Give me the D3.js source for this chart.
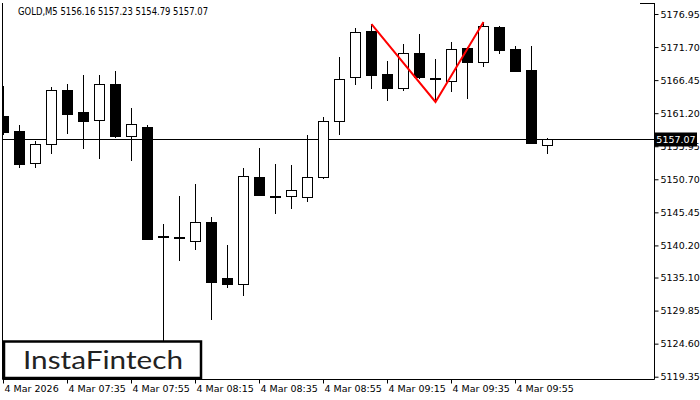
<!DOCTYPE html>
<html><head><meta charset="utf-8">
<script src="https://cdn.jsdelivr.net/npm/d3@7"></script>
<style>
html,body{margin:0;padding:0;background:#fff;}
svg{display:block;}
</style></head>
<body>
<svg id="chart" width="700" height="400"></svg>
<script>
const symbolTitle = "GOLD,M5  5156.16 5157.23 5154.79 5157.07";
const opens = [5160.75,5158.37,5153.29,5156.31,5164.88,5161.39,5160.12,5165.83,5157.58,5159.00,5141.72,5141.52,5140.95,5143.92,5135.03,5134.07,5151.06,5148.07,5148.05,5147.89,5151.06,5159.96,5166.95,5174.25,5167.42,5165.20,5170.76,5166.77,5166.31,5171.55,5169.33,5174.89,5171.39,5168.06,5156.16];
const highs = [5165.52,5159.32,5156.78,5165.36,5165.83,5167.26,5167.26,5167.90,5162.02,5159.32,5143.60,5148.05,5149.95,5144.71,5140.27,5152.49,5155.67,5153.13,5152.97,5157.73,5160.59,5170.12,5174.73,5175.36,5169.49,5172.19,5173.77,5169.80,5172.50,5171.71,5175.68,5175.04,5171.87,5171.87,5157.23];
const lows = [5157.73,5152.49,5152.49,5154.72,5157.89,5155.51,5153.92,5157.26,5153.61,5141.06,5123.50,5137.73,5139.47,5128.36,5133.44,5132.17,5148.05,5145.19,5145.98,5147.09,5150.75,5157.73,5165.68,5165.04,5163.13,5164.72,5166.63,5162.98,5164.56,5163.45,5168.53,5170.60,5167.90,5156.46,5154.79];
const closes = [5158.21,5153.13,5156.31,5164.88,5161.07,5159.96,5165.83,5157.58,5159.48,5141.22,5141.68,5141.56,5143.87,5134.39,5134.07,5151.22,5148.21,5148.03,5149.00,5151.06,5159.96,5166.63,5174.09,5167.26,5165.20,5170.76,5166.95,5166.81,5171.39,5169.33,5175.04,5171.23,5167.90,5156.46,5157.07];
const xTickIndex = [0,4,8,12,16,20,24,28,32];
const xTickLabels = ["4 Mar 2026","4 Mar 07:35","4 Mar 07:55","4 Mar 08:15","4 Mar 08:35","4 Mar 08:55","4 Mar 09:15","4 Mar 09:35","4 Mar 09:55"];
const yTicks = [5176.95,5171.70,5166.45,5161.20,5155.95,5150.70,5145.45,5140.20,5135.10,5129.85,5124.60,5119.35];
const currentPrice = 5157.07;
const patternIndex = [23,27,30];
const patternPrice = [5175.36,5162.98,5175.68];
const logoText = "InstaFintech";

const svg = d3.select("#chart");
const plotL = 2.5, plotR = 654.5, plotT = 3, plotB = 379.5;
const x = d3.scaleLinear().domain([0, 34]).range([3.5, 547.5]);
const y = d3.scaleLinear().domain([5119.35, 5176.95]).range([376.7, 14]);
const font = "Tahoma, 'DejaVu Sans', 'Liberation Sans', sans-serif";

const plot = svg.append("g");
// clip
svg.append("clipPath").attr("id","clip").append("rect")
  .attr("x", plotL).attr("y", plotT).attr("width", plotR-plotL).attr("height", plotB-plotT);
const g = plot.append("g").attr("clip-path","url(#clip)");

// current price line
g.append("line").attr("x1", plotL).attr("x2", plotR)
  .attr("y1", Math.round(y(currentPrice))+0.5).attr("y2", Math.round(y(currentPrice))+0.5)
  .attr("stroke","#000").attr("stroke-width",1);

const idx = d3.range(opens.length);
const px = i => Math.round(x(i) - 0.5) + 0.5;
// wicks
g.selectAll("line.wick").data(idx).join("line").attr("class","wick")
  .attr("x1", px).attr("x2", px)
  .attr("y1", i => Math.round(y(highs[i]))).attr("y2", i => Math.round(y(lows[i])))
  .attr("stroke","#000").attr("stroke-width",1);
// bodies
g.selectAll("rect.body").data(idx).join("rect").attr("class","body")
  .attr("x", i => px(i) - 5)
  .attr("width", 10)
  .attr("y", i => Math.round(y(Math.max(opens[i], closes[i]))) + 0.5)
  .attr("height", i => Math.max(1, Math.round(y(Math.min(opens[i], closes[i]))) - Math.round(y(Math.max(opens[i], closes[i])))))
  .attr("fill", i => closes[i] >= opens[i] ? "#fff" : "#000")
  .attr("stroke","#000").attr("stroke-width",1);

// pattern line
g.append("path")
  .datum(d3.range(patternIndex.length))
  .attr("d", d3.line().x(j => x(patternIndex[j])).y(j => y(patternPrice[j])))
  .attr("fill","none").attr("stroke","#ff0000").attr("stroke-width",2);

// frame
svg.append("line").attr("x1", plotL).attr("x2", plotL).attr("y1", plotT).attr("y2", plotB)
  .attr("stroke","#000");
svg.append("line").attr("x1", plotL).attr("x2", plotR).attr("y1", plotB).attr("y2", plotB)
  .attr("stroke","#000");
svg.append("line").attr("x1", plotR).attr("x2", plotR).attr("y1", plotT).attr("y2", plotB)
  .attr("stroke","#000");
svg.append("line").attr("x1", 640).attr("x2", plotR).attr("y1", plotT+0.5).attr("y2", plotT+0.5)
  .attr("stroke","#000");

// y axis
const yAxis = d3.axisRight(y).tickValues(yTicks).tickFormat(d3.format(".2f")).tickSize(4).tickSizeOuter(0).tickPadding(2);
const ya = svg.append("g").attr("transform", `translate(${plotR},0)`).call(yAxis);
ya.select(".domain").remove();
ya.selectAll("text").attr("font-family", font).attr("font-size", 9.5).attr("fill","#000");
ya.selectAll("line").attr("stroke","#000");

// x axis
const xAxis = d3.axisBottom(x).tickValues(xTickIndex).tickFormat((d,k) => xTickLabels[k]).tickSize(4).tickSizeOuter(0);
const xa = svg.append("g").attr("transform", `translate(0,${plotB})`).call(xAxis);
xa.select(".domain").remove();
xa.selectAll(".tick").attr("transform", d => `translate(${px(d)},0)`);
xa.selectAll("text").attr("font-family", font).attr("font-size", 9.5).attr("fill","#000")
  .attr("text-anchor","start").attr("x", 1).attr("y", 6).attr("dy","0.71em");
xa.selectAll("line").attr("stroke","#000");

// current price label
const cy = Math.round(y(currentPrice));
svg.append("rect").attr("x", 655).attr("y", cy - 6.5).attr("width", 42).attr("height", 14).attr("fill","#000");
svg.append("text").attr("x", 676).attr("y", cy + 0.5).attr("dy","0.35em").attr("text-anchor","middle")
  .attr("font-family", font).attr("font-size", 9.5).attr("fill","#fff").text(d3.format(".2f")(currentPrice));

// title
svg.append("text").attr("x", 18).attr("y", 15).attr("font-family", font).attr("font-size", 10)
  .attr("fill","#000").attr("textLength", 190).attr("lengthAdjust","spacingAndGlyphs").text(symbolTitle);

// logo
svg.append("rect").attr("x", 4).attr("y", 341.5).attr("width", 197).attr("height", 36.5)
  .attr("fill","#fff").attr("stroke","#000").attr("stroke-width",2.5);
svg.append("text").attr("x", 23).attr("y", 368.5).attr("font-family","Lato, 'Open Sans', sans-serif")
  .attr("font-size", 25).attr("fill","#222").attr("textLength", 160).attr("lengthAdjust","spacingAndGlyphs")
  .text(logoText);
</script>
</body></html>
